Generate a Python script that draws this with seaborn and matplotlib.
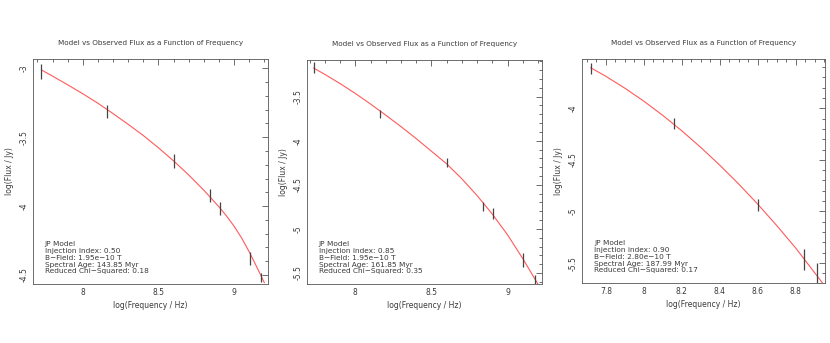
import numpy as np
import pandas as pd
import matplotlib
matplotlib.use("Agg")
import matplotlib.pyplot as plt
import seaborn as sns
from matplotlib.ticker import MultipleLocator, FormatStrFormatter

# ---------------- data ----------------
title = "Model vs Observed Flux as a Function of Frequency"
xlabel = "log(Frequency / Hz)"
ylabel = "log(Flux / Jy)"

# panel 1
obs1_x = [7.726, 8.160, 8.600, 8.842, 8.908, 9.105, 9.180]
obs1_y = [-3.025, -3.314, -3.672, -3.921, -4.020, -4.380, -4.517]
obs1_e = [0.053, 0.048, 0.048, 0.046, 0.047, 0.050, 0.030]
mod1_x = [7.726, 7.8, 7.9, 8.0, 8.1, 8.2, 8.3, 8.4, 8.5, 8.6, 8.7, 8.8, 8.9,
          8.95, 9.0, 9.05, 9.1, 9.15, 9.2]
mod1_y = [-3.012, -3.057, -3.120, -3.185, -3.254, -3.329, -3.407, -3.488, -3.577,
          -3.672, -3.774, -3.885, -4.005, -4.072, -4.146, -4.232, -4.332, -4.442, -4.556]
text1 = ["JP Model", "Injection index: 0.50", "B\u2212Field: 1.95e\u221210 T",
         "Spectral Age: 143.85 Myr", "Reduced Chi\u2212Squared: 0.18"]

# panel 2
obs2_x = [7.726, 8.160, 8.600, 8.840, 8.905, 9.100, 9.180]
obs2_y = [-3.172, -3.696, -4.250, -4.744, -4.830, -5.355, -5.577]
obs2_e = [0.062, 0.047, 0.053, 0.047, 0.062, 0.077, 0.053]
mod2_x = [7.726, 7.8, 7.9, 8.0, 8.1, 8.2, 8.3, 8.4, 8.5, 8.6, 8.7, 8.8, 8.9, 9.0, 9.1, 9.2]
mod2_y = [-3.175, -3.248, -3.352, -3.464, -3.584, -3.710, -3.840, -3.976, -4.119,
          -4.262, -4.432, -4.622, -4.832, -5.067, -5.337, -5.627]
text2 = ["JP Model", "Injection index: 0.85", "B\u2212Field: 1.95e\u221210 T",
         "Spectral Age: 161.85 Myr", "Reduced Chi\u2212Squared: 0.35"]

# panel 3
obs3_x = [7.719, 8.156, 8.602, 8.844, 8.911]
obs3_y = [-3.613, -4.149, -4.938, -5.464, -5.603]
obs3_e = [0.056, 0.052, 0.061, 0.105, 0.105]
mod3_x = [7.719, 7.8, 7.9, 8.0, 8.1, 8.2, 8.3, 8.4, 8.5, 8.6, 8.7, 8.8, 8.9, 8.95]
mod3_y = [-3.607, -3.691, -3.806, -3.932, -4.070, -4.219, -4.380, -4.552, -4.735,
          -4.930, -5.137, -5.355, -5.595, -5.715]
text3 = ["JP Model", "Injection index: 0.90", "B\u2212Field: 2.80e\u221210 T",
         "Spectral Age: 187.99 Myr", "Reduced Chi\u2212Squared: 0.17"]

# ---------------- layout ----------------
W, H = 830, 343
panels = [
    dict(box=(33, 59, 268, 284), xlim=(7.671, 9.224), ylim=(-4.565, -2.933),
         xmaj=0.5, xmin=0.1, ymaj=0.5, ymin=0.1,
         ox=obs1_x, oy=obs1_y, oe=obs1_e, mx=mod1_x, my=mod1_y, txt=text1),
    dict(box=(307, 60, 542, 284), xlim=(7.683, 9.226), ylim=(-5.624, -3.085),
         xmaj=0.5, xmin=0.1, ymaj=0.5, ymin=0.1,
         ox=obs2_x, oy=obs2_y, oe=obs2_e, mx=mod2_x, my=mod2_y, txt=text2),
    dict(box=(582, 59, 825, 283), xlim=(7.674, 8.954), ylim=(-5.693, -3.523),
         xmaj=0.2, xmin=0.05, ymaj=0.5, ymin=0.1,
         ox=obs3_x, oy=obs3_y, oe=obs3_e, mx=mod3_x, my=mod3_y, txt=text3),
]

sns.set_theme(style="white")
plt.rcParams["font.family"] = ["DejaVu Sans"]
plt.rcParams["axes.unicode_minus"] = True

fig = plt.figure(figsize=(W / 100, H / 100), dpi=100)
frame_col = "#555555"
txt_col = "#3a3a3a"
for p in panels:
    l, t, r, b = p["box"]
    ax = fig.add_axes([l / W, (H - b) / H, (r - l) / W, (b - t) / H])
    df = pd.DataFrame({"x": p["mx"], "y": p["my"]})
    sns.lineplot(data=df, x="x", y="y", ax=ax, color="#ff5a5a", linewidth=0.8,
                 sort=False, estimator=None)
    ax.errorbar(p["ox"], p["oy"], yerr=p["oe"], fmt="none", ecolor="#444444",
                elinewidth=0.9, capsize=0)
    ax.set_xlim(*p["xlim"])
    ax.set_ylim(*p["ylim"])
    ax.xaxis.set_major_locator(MultipleLocator(p["xmaj"]))
    ax.xaxis.set_minor_locator(MultipleLocator(p["xmin"]))
    ax.yaxis.set_major_locator(MultipleLocator(p["ymaj"]))
    ax.yaxis.set_minor_locator(MultipleLocator(p["ymin"]))
    ax.xaxis.set_major_formatter(FormatStrFormatter("%g"))
    ax.yaxis.set_major_formatter(FormatStrFormatter("%g"))
    ax.tick_params(which="both", direction="in", top=True, right=True,
                   color=frame_col, width=0.6, labelsize=5.5, labelcolor=txt_col)
    ax.tick_params(which="major", length=4)
    ax.tick_params(which="minor", length=2)
    ax.tick_params(axis="x", which="major", pad=3)
    ax.tick_params(axis="y", which="major", pad=3)
    for lab in ax.get_yticklabels():
        lab.set_rotation(90)
        lab.set_va("center")
    for s in ax.spines.values():
        s.set_color(frame_col)
        s.set_linewidth(0.6)
    ax.set_xlabel(xlabel, fontsize=5.5, color=txt_col, labelpad=3)
    ax.set_ylabel(ylabel, fontsize=5.5, color=txt_col, labelpad=4)
    ax.set_title(title, fontsize=5.2, color=txt_col, pad=10)
    ax.text(0.05, 0.19, "\n".join(p["txt"]), transform=ax.transAxes,
            fontsize=5.3, color=txt_col, va="top", ha="left", linespacing=1.15)

fig.savefig("out.png", dpi=100)
